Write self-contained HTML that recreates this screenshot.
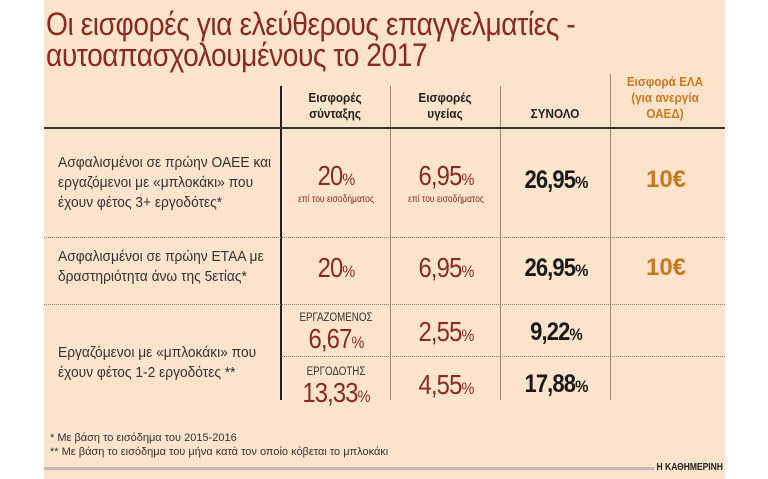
<!DOCTYPE html>
<html><head><meta charset="utf-8"><style>
body{margin:0;width:768px;height:479px;background:#fff;position:relative;overflow:hidden;font-family:"Liberation Sans","DejaVu Sans",sans-serif;}
#bg{position:absolute;left:44px;top:0;width:681px;height:479px;background:#fbe3cc;}
.a{position:absolute;white-space:nowrap;}
.t{color:#8a2b1f;font-size:32px;left:46px;letter-spacing:-0.5px;transform:scaleX(0.88);transform-origin:0 0}
.h{font-size:13px;font-weight:bold;color:#222;text-align:center;line-height:16px;width:110px;transform:scaleX(0.9)}
.lab{font-size:14.5px;color:#333;line-height:20px;left:58px;transform:scaleX(0.95);transform-origin:0 0}
.r{color:#8a2b1f;font-size:28px;text-align:center;width:110px;letter-spacing:-1px;transform:scaleX(0.85)}
.r small{font-size:17px}
.b{color:#1a1a1a;font-weight:bold;font-size:25px;text-align:center;width:110px;letter-spacing:-1px;transform:scaleX(0.88)}
.b small{font-size:17px}
.o{color:#c87a1e;font-weight:bold;font-size:24px;text-align:center;width:110px}
.s{font-size:10px;color:#8a2b1f;text-align:center;width:110px;transform:scaleX(0.85)}
.cap{font-size:11.5px;color:#333;text-align:center;width:110px;transform:scaleX(0.85)}
.ft{font-size:11px;color:#333;left:50px;transform:scaleX(1);transform-origin:0 0}
.vl{position:absolute;width:1px;background:#9a8a7a}
.dot{position:absolute;height:0;border-top:1.5px dotted #8a7a6a}
</style></head><body>
<div id="bg"></div>
<div class="a t" style="top:6px">Οι εισφορές για ελεύθερους επαγγελματίες -</div>
<div class="a t" style="top:37px">αυτοαπασχολουμένους το 2017</div>

<div class="a h" style="left:280px;top:90px">Εισφορές<br>σύνταξης</div>
<div class="a h" style="left:390px;top:90px">Εισφορές<br>υγείας</div>
<div class="a h" style="left:500px;top:106px">ΣΥΝΟΛΟ</div>
<div class="a h" style="left:610px;top:74px;color:#c87a1e">Εισφορά ΕΛΑ<br>(για ανεργία<br>ΟΑΕΔ)</div>

<div class="vl" style="left:280px;top:86px;height:314px;width:2px;background:#222"></div>
<div class="vl" style="left:390px;top:86px;height:314px"></div>
<div class="vl" style="left:500px;top:86px;height:314px"></div>
<div class="vl" style="left:610px;top:74px;height:326px"></div>
<div class="a" style="left:44px;top:127px;width:681px;height:2px;background:#333"></div>
<div class="dot" style="left:44px;top:237px;width:681px"></div>
<div class="dot" style="left:44px;top:304px;width:681px"></div>
<div class="dot" style="left:281px;top:356px;width:444px"></div>

<div class="a lab" style="top:153px">Ασφαλισμένοι σε πρώην ΟΑΕΕ και<br>εργαζόμενοι με «μπλοκάκι» που<br>έχουν φέτος 3+ εργοδότες*</div>
<div class="a r" style="left:281px;top:160px">20<small>%</small></div>
<div class="a s" style="left:281px;top:194px">επί του εισοδήματος</div>
<div class="a r" style="left:391px;top:160px">6,95<small>%</small></div>
<div class="a s" style="left:391px;top:194px">επί του εισοδήματος</div>
<div class="a b" style="left:501px;top:166px">26,95<small>%</small></div>
<div class="a o" style="left:611px;top:166px">10€</div>

<div class="a lab" style="top:247px">Ασφαλισμένοι σε πρώην ΕΤΑΑ με<br>δραστηριότητα άνω της 5ετίας*</div>
<div class="a r" style="left:281px;top:252px">20<small>%</small></div>
<div class="a r" style="left:391px;top:252px">6,95<small>%</small></div>
<div class="a b" style="left:501px;top:254px">26,95<small>%</small></div>
<div class="a o" style="left:611px;top:254px">10€</div>

<div class="a lab" style="top:343px">Εργαζόμενοι με «μπλοκάκι» που<br>έχουν φέτος 1-2 εργοδότες **</div>
<div class="a cap" style="left:281px;top:312px">ΕΡΓΑΖΟΜΕΝΟΣ</div>
<div class="a r" style="left:281px;top:323px">6,67<small>%</small></div>
<div class="a r" style="left:391px;top:316px">2,55<small>%</small></div>
<div class="a b" style="left:501px;top:318px">9,22<small>%</small></div>
<div class="a cap" style="left:281px;top:366px">ΕΡΓΟΔΟΤΗΣ</div>
<div class="a r" style="left:281px;top:377px">13,33<small>%</small></div>
<div class="a r" style="left:391px;top:369px">4,55<small>%</small></div>
<div class="a b" style="left:501px;top:370px">17,88<small>%</small></div>

<div class="a ft" style="top:432px">* Με βάση το εισόδημα του 2015-2016</div>
<div class="a ft" style="top:446px">** Με βάση το εισόδημα του μήνα κατά τον οποίο κόβεται το μπλοκάκι</div>
<div class="a" style="left:44px;top:467px;width:648px;height:3px;background:#bbb"></div>
<div class="a" style="left:654px;top:462px;font-size:10px;font-weight:bold;color:#222;background:#fbe3cc;padding-left:3px;transform:scaleX(0.85);transform-origin:0 0">Η ΚΑΘΗΜΕΡΙΝΗ</div>
</body></html>
